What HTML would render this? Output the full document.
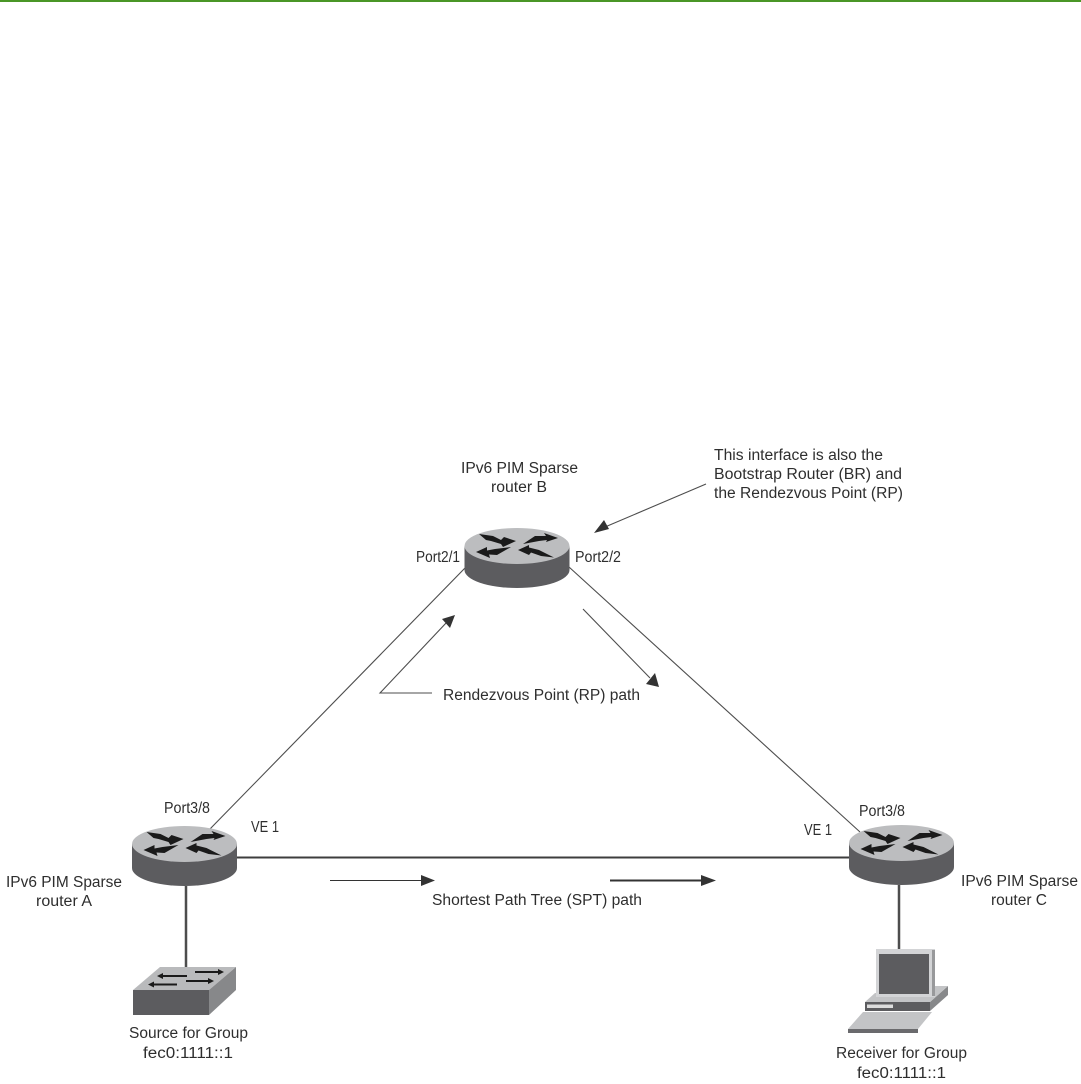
<!DOCTYPE html>
<html><head><meta charset="utf-8"><style>
html,body{margin:0;padding:0;background:#fff}
svg{display:block;filter:blur(.35px)}
text{font-family:"Liberation Sans",sans-serif;font-size:15.5px;fill:#2e2e2e}
</style></head><body>
<svg width="1081" height="1084" viewBox="0 0 1081 1084" xmlns="http://www.w3.org/2000/svg">
<defs>
<g id="router">
<path d="M-52.500 0V24A52.500 18 0 0 0 52.500 24V0Z" fill="#5c5c5f"/>
<ellipse cx="0" cy="0" rx="52.500" ry="18" fill="#bcbdbf"/>
<path d="M-38-12L-24-10L-16-6L-13-9L-1-5L-14 1L-16-2L-26-5L-31-6Z" fill="#1a1a1a"/>
<path d="M6-2L18-10L29-10L27-13L41-8L29-4L30-6L22-5Z" fill="#1a1a1a"/>
<path d="M-6 1L-20 9L-28 8.500L-27 12L-41 6L-30 1L-30 4.500L-22 3Z" fill="#1a1a1a"/>
<path d="M1 4L12-1L12 1.500L22 4L37 11.500L24 10L14 6.500L12 9Z" fill="#1a1a1a"/>
</g>
</defs>
<rect x="0" y="0" width="1081" height="2" fill="#4a9626"/>

<g stroke="#4d4d4d" fill="none">
<path d="M465 568L209 830" stroke-width="1.100"/>
<path d="M569 567L860 832" stroke-width="1.100"/>
<path d="M237 857.500H850" stroke-width="2" stroke="#3d3d3d"/>
<path d="M186 886V968" stroke-width="2.500"/>
<path d="M899 885V950" stroke-width="2.500"/>
<path d="M706 484L605 527" stroke-width="1.100"/>
<path d="M432 693H380L447 622" stroke-width="1.100"/>
<path d="M583 609L650 678" stroke-width="1.100"/>
<path d="M330 880.500H425" stroke-width="1.100" stroke="#333"/>
<path d="M610 880.500H705" stroke-width="2" stroke="#333"/>
</g>
<path d="M594 533L604 520L609 529Z" fill="#333"/>
<path d="M455 615L450 628L442 619Z" fill="#333"/>
<path d="M659 687L646 684L655 673Z" fill="#333"/>
<path d="M435 880.500L421 875V886Z" fill="#333"/>
<path d="M716 880.500L701 875V886Z" fill="#333"/>

<use href="#router" x="517" y="546"/>
<use href="#router" x="184.500" y="844"/>
<use href="#router" x="901.500" y="843"/>

<!-- switch -->
<path d="M133 990L160 967H236L209 990Z" fill="#b9babc"/>
<rect x="133" y="990" width="76" height="25" fill="#5c5c5f"/>
<path d="M209 990L236 967V990L209 1015Z" fill="#87888a"/>
<g fill="#1a1a1a">
<path d="M163 975H187V977H163V979L157 976L163 973Z"/>
<path d="M195 971H218V969L224 972L218 975V973H195Z"/>
<path d="M154 983.500H177V985.500H154V987.500L148 984.500L154 981.500Z"/>
<path d="M186 980H208V978L214 981L208 984V982H186Z"/>
</g>

<!-- workstation -->
<path d="M930 1002L948 986V995L930 1011Z" fill="#87888a"/>
<path d="M865 1002L875 993H935V986H948L930 1002Z" fill="#c3c4c6"/>
<rect x="865" y="1002" width="65" height="9" fill="#5c5c5f"/>
<rect x="867" y="1004.500" width="26" height="3.500" fill="#ddd"/>
<path d="M848 1029L863 1012H932L918 1029Z" fill="#c3c4c6"/>
<rect x="848" y="1029" width="70" height="4" fill="#6a6a6d"/>
<rect x="876" y="949" width="59" height="48" fill="#d3d4d6"/>
<rect x="932" y="950" width="3" height="46" fill="#98999b"/>
<rect x="879" y="954" width="50" height="40" fill="#5c5c5f"/>

<!-- labels -->
<text x="714" y="460" textLength="169" lengthAdjust="spacingAndGlyphs">This interface is also the</text>
<text x="714" y="479" textLength="188" lengthAdjust="spacingAndGlyphs">Bootstrap Router (BR) and</text>
<text x="714" y="498" textLength="189" lengthAdjust="spacingAndGlyphs">the Rendezvous Point (RP)</text>
<text x="461" y="473" textLength="117" lengthAdjust="spacingAndGlyphs">IPv6 PIM Sparse</text>
<text x="491" y="492" textLength="56" lengthAdjust="spacingAndGlyphs">router B</text>
<text x="416" y="562" textLength="44" lengthAdjust="spacingAndGlyphs">Port2/1</text>
<text x="575" y="562" textLength="46" lengthAdjust="spacingAndGlyphs">Port2/2</text>
<text x="443" y="700" textLength="197" lengthAdjust="spacingAndGlyphs">Rendezvous Point (RP) path</text>
<text x="164" y="813" textLength="46" lengthAdjust="spacingAndGlyphs">Port3/8</text>
<text x="251" y="832" textLength="28" lengthAdjust="spacingAndGlyphs">VE 1</text>
<text x="804" y="835" textLength="28" lengthAdjust="spacingAndGlyphs">VE 1</text>
<text x="859" y="816" textLength="46" lengthAdjust="spacingAndGlyphs">Port3/8</text>
<text x="6" y="887" textLength="116" lengthAdjust="spacingAndGlyphs">IPv6 PIM Sparse</text>
<text x="36" y="906" textLength="56" lengthAdjust="spacingAndGlyphs">router A</text>
<text x="961" y="886" textLength="117" lengthAdjust="spacingAndGlyphs">IPv6 PIM Sparse</text>
<text x="991" y="905" textLength="56" lengthAdjust="spacingAndGlyphs">router C</text>
<text x="432" y="905" textLength="210" lengthAdjust="spacingAndGlyphs">Shortest Path Tree (SPT) path</text>
<text x="129" y="1038" textLength="119" lengthAdjust="spacingAndGlyphs">Source for Group</text>
<text x="143" y="1058" textLength="90" lengthAdjust="spacingAndGlyphs">fec0:1111::1</text>
<text x="836" y="1058" textLength="131" lengthAdjust="spacingAndGlyphs">Receiver for Group</text>
<text x="857" y="1078" textLength="89" lengthAdjust="spacingAndGlyphs">fec0:1111::1</text>
</svg>
</body></html>
